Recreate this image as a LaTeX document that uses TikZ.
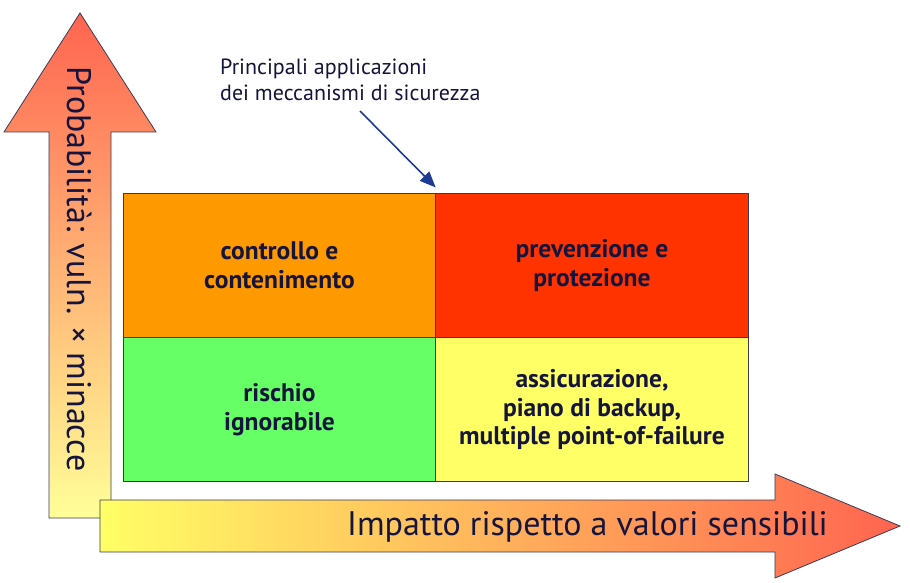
\documentclass[tikz,border=0pt]{standalone}
\usepackage{fontspec}
\setmainfont{PT Sans}
\usepackage{xcolor}
\usetikzlibrary{positioning,arrows.meta,calc}

\definecolor{inchiostro}{HTML}{14143C}
\definecolor{bordo}{HTML}{3A3A55}
\definecolor{arancio}{HTML}{FF9900}
\definecolor{rosso}{HTML}{FF3300}
\definecolor{verde}{HTML}{66FF66}
\definecolor{giallo}{HTML}{FFFF66}
\definecolor{freccia}{HTML}{1F3A93}
\definecolor{caldo}{HTML}{FF6450}
\definecolor{tenue}{HTML}{FFFF99}

\begin{document}
\begin{tikzpicture}[
    x=1pt, y=-1pt,
    cella/.style={draw=bordo, line width=0.8pt, minimum width=312.5pt,
        minimum height=144pt, inner sep=0pt, outer sep=0pt, align=center,
        text=inchiostro, font=\fontsize{25.5}{28.5}\selectfont\bfseries},
    asse/.style={draw=bordo, line width=0.8pt},
    etichetta/.style={text=inchiostro, font=\fontsize{34}{38}\selectfont, inner sep=0pt}
]
\useasboundingbox (0,0) rectangle (910,583);

% asse verticale
\path[asse, top color=caldo, bottom color=tenue]
    (49,518) -- (49,132) -- (4,132) -- (80,13) -- (156,132) -- (111,132) -- (111,518) -- cycle;
\node[etichetta, rotate=-90] (prob) at (80,269) {Probabilità: vuln. × minacce};

% matrice
\node[cella, fill=arancio] (controllo) at (279.5,265.5) {controllo e\\contenimento};
\node[cella, fill=rosso, right=0pt of controllo] (prevenzione) {prevenzione e\\protezione};
\node[cella, fill=verde, below=0pt of controllo] (rischio) {rischio\\ignorabile};
\node[cella, fill=giallo, below=0pt of prevenzione] (assicurazione) {assicurazione,\\piano di backup,\\multiple point-of-failure};

% asse orizzontale
\path[asse, left color=giallo, right color=caldo]
    (100,500) -- (775,500) -- (775,474) -- (900,526) -- (775,578) -- (775,552) -- (100,552) -- cycle;
\node[etichetta, anchor=east] (impatto) at (828,527) {Impatto rispetto a valori sensibili};

% nota
\node[anchor=west, align=left, inner sep=0pt, text=inchiostro,
      font=\fontsize{22}{26}\selectfont] (nota) at (220,80)
    {Principali applicazioni\\dei meccanismi di sicurezza};
\coordinate (coda) at (360,111);
\draw[freccia, line width=1.6pt, -{Triangle[length=16pt,width=13pt]}]
    (coda) -- ([yshift=6pt]controllo.north east);
\end{tikzpicture}
\end{document}
